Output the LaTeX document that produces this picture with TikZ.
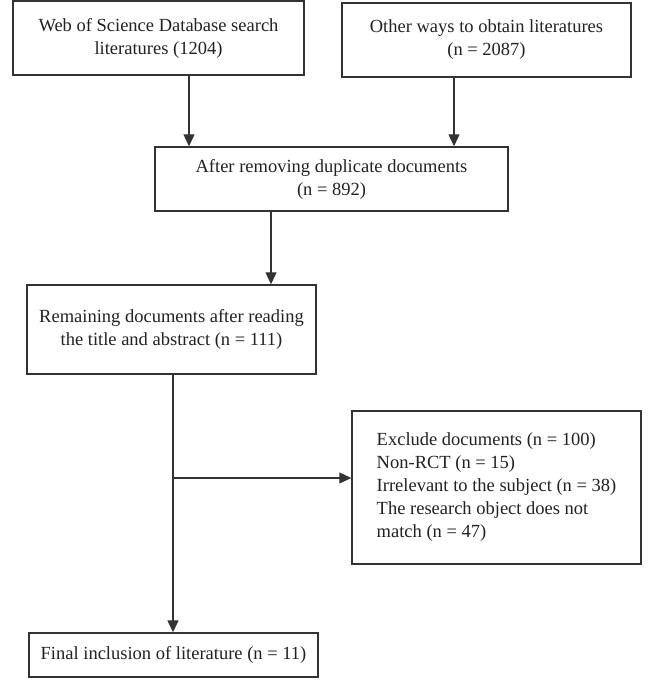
\documentclass[tikz,border=0pt]{standalone}
\usepackage{fontspec}
\setmainfont{Liberation Serif}
\usetikzlibrary{arrows.meta}
\definecolor{linec}{HTML}{333333}
\definecolor{textc}{HTML}{222222}
\begin{document}
\begin{tikzpicture}[x=1pt,y=1pt,
  box/.style={draw=linec, line width=1.4pt, rectangle, align=center, inner sep=0pt,
    font=\fontsize{18.5}{23}\selectfont, text=textc},
  arr/.style={draw=linec, line width=1.2pt, -{Triangle[length=12pt,width=11pt]}},
  ln/.style={draw=linec, line width=1.2pt}]
\useasboundingbox (0,0) rectangle (648,-680);
\fill[white] (0,0) rectangle (648,-680);
\node[box, minimum width=291pt, minimum height=74pt] (b1) at (158.5,-38) {Web of Science Database search\\literatures (1204)};
\node[box, minimum width=289pt, minimum height=74pt] (b2) at (486.5,-40) {Other ways to obtain literatures\\(n = 2087)};
\node[box, minimum width=353pt, minimum height=64pt] (b3) at (331.5,-179) {After removing duplicate documents\\(n = 892)};
\node[box, minimum width=289pt, minimum height=89pt] (b4) at (171.5,-329.5) {Remaining documents after reading\\the title and abstract (n = 111)};
\node[box, minimum width=289pt, minimum height=153pt, align=left] (b5) at (496.5,-487.5) {Exclude documents (n = 100)\\Non-RCT (n = 15)\\Irrelevant to the subject (n = 38)\\The research object does not\\match (n = 47)};
\node[box, minimum width=289pt, minimum height=44pt] (b6) at (173.5,-655) {Final inclusion of literature (n = 11)};
\draw[arr] ([xshift=30.5pt]b1.south) -- ([xshift=30.5pt]b1.south |- b3.north);
\draw[arr] ([xshift=-32.5pt]b2.south) -- ([xshift=-32.5pt]b2.south |- b3.north);
\draw[arr] ([xshift=-60.5pt]b3.south) -- ([xshift=-60.5pt]b3.south |- b4.north);
\draw[arr] ([xshift=1.5pt]b4.south) -- ([xshift=1.5pt]b4.south |- b6.north);
\coordinate (br) at ([xshift=1.5pt]b4.south |- 0,-478);
\draw[arr] (br) -- (br -| b5.west);
\end{tikzpicture}
\end{document}
